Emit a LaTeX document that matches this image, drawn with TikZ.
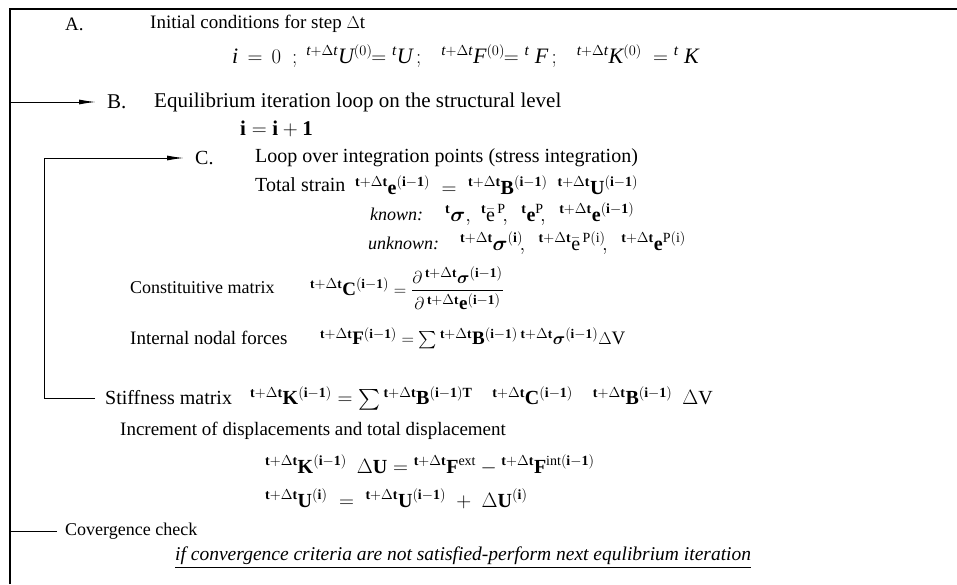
\documentclass[tikz,border=0pt]{standalone}
\usepackage{fontspec}
\setmainfont{Liberation Serif}
\usepackage{amsmath}
\usetikzlibrary{arrows.meta, positioning}

\newcommand{\tdt}{{}^{\mathbf{t+}\Delta\mathbf{t}}}
\newcommand{\pt}{{}^{\mathbf{t}}}
\newcommand{\imo}{(\mathbf{i-1})}
\newcommand{\itdt}{{}^{\mathit{t+}\Delta\mathit{t}}}

\tikzset{
	txt/.style={anchor=west, inner sep=0pt},
	fs/.style={font=\fontsize{#1}{#1}\selectfont},
	loopline/.style={line width=1pt},
	looparrow/.style={loopline, -{Latex[length=17pt,width=5pt]}, shorten >=11pt},
}

\begin{document}
\begin{tikzpicture}[x=1pt,y=-1pt]
	\useasboundingbox (0,0) rectangle (957,584);
	% frame
	\draw[line width=1.4pt] (10,584) -- (10,9) -- (957,9);
	
	% A: initial conditions
	\node[txt, fs=19] (labA) at (65,24) {A.};
	\node[txt, fs=19] (txtA) at (150,24) {Initial conditions for step $\Delta$t};
	\node[txt, fs=22] (init) at (232,56)
	{$\mathit{i}\,=\,0\ \ ;\ \itdt\mathit{U}^{(0)}\!\!={}^{\mathit{t}}\mathit{U}\,;\ \ \ \itdt\mathit{F}^{(0)}\!\!={}^{\mathit{t}}\ \mathit{F}\,;\ \ \ \itdt\mathit{K}^{(0)}\ ={}^{\mathit{t}}\ \mathit{K}$};
	
	% B: equilibrium loop
	\node[txt, fs=21] (labB) at (107,102) {B.};
	\node[txt, fs=21] (txtB) at (154,102) {Equilibrium iteration loop on the structural level};
	\node[txt, fs=21] (incr) at (240,129) {$\mathbf{i=i+1}$};
	
	% C: integration points
	\node[txt, fs=20] (labC) at (195,158) {C.};
	\node[txt, fs=20] (txtC) at (255,158) {Loop over integration points (stress integration)};
	\node[txt, fs=20] (strain) at (255,185) {Total strain};
	\node[txt, fs=20] (strainf) at (355,185)
	{$\tdt\mathbf{e}^{\imo}\;=\;\tdt\mathbf{B}^{\imo}\ \ \tdt\mathbf{U}^{\imo}$};
	\node[txt, fs=18] (known) at (370,214) {\textit{known:}};
	\node[txt, fs=20] (knownf) at (445,214)
	{$\pt\boldsymbol{\sigma}\mathbf{,}\ \ \pt\bar{\mathrm{e}}^{\,\mathrm{P}}\!,\ \ \pt\mathbf{e}^{\mathrm{P}}\!,\ \ \tdt\mathbf{e}^{\imo}$};
	\node[txt, fs=18] (unknown) at (368,243) {\textit{unknown:}};
	\node[txt, fs=20] (unknownf) at (460,243)
	{$\tdt\boldsymbol{\sigma}^{(\mathbf{i})}\!,\ \ \tdt\bar{\mathrm{e}}^{\,\mathrm{P(i)}}\!,\ \ \tdt\mathbf{e}^{\mathrm{P(i)}}$};
	\node[txt, fs=18] (constit) at (130,288) {Constituitive matrix};
	\node[txt, fs=19] (constitf) at (310,288)
	{$\tdt\mathbf{C}^{\imo}=\dfrac{\partial\,\tdt\boldsymbol{\sigma}^{\imo}}{\partial\,\tdt\mathbf{e}^{\imo}}$};
	\node[txt, fs=19] (nodal) at (130,338) {Internal nodal forces};
	\node[txt, fs=19] (nodalf) at (320,338)
	{$\tdt\mathbf{F}^{\imo}=\sum\tdt\mathbf{B}^{\imo}\,\tdt\boldsymbol{\sigma}^{\imo}\Delta\mathrm{V}$};
	\node[txt, fs=20] (stiff) at (105,398) {Stiffness matrix};
	\node[txt, fs=20] (stifff) at (250,398)
	{$\tdt\mathbf{K}^{\imo}=\sum\tdt\mathbf{B}^{\imo\mathbf{T}}\quad\tdt\mathbf{C}^{\imo}\quad\tdt\mathbf{B}^{\imo}\ \ \Delta\mathrm{V}$};
	
	% increments
	\node[txt, fs=19] (disp) at (120,431) {Increment of displacements and total displacement};
	\node[txt, fs=20] (solve) at (265,465)
	{$\tdt\mathbf{K}^{\imo}\ \ \Delta\mathbf{U}=\tdt\mathbf{F}^{\mathrm{ext}}-\tdt\mathbf{F}^{\mathrm{int}\imo}$};
	\node[txt, fs=20] (update) at (265,499)
	{$\tdt\mathbf{U}^{(\mathbf{i})}\;=\;\tdt\mathbf{U}^{\imo}\;+\;\Delta\mathbf{U}^{(\mathbf{i})}$};
	
	% convergence
	\node[txt, fs=18] (conv) at (65,531) {Covergence check};
	\node[txt, fs=19.5] (crit) at (175,558)
	{\underline{\textit{if convergence criteria are not satisfied-perform next equlibrium iteration}}};
	
	% loops
	\coordinate (bx) at (17,0);
	\coordinate (cx) at (54,0);
	\draw[looparrow] ([xshift=-8pt]conv.west) -- ([xshift=-8pt]conv.west -| bx) |- (labB.west);
	\draw[looparrow] ([xshift=-10pt]stiff.west) -- ([xshift=-10pt]stiff.west -| cx) |- (labC.west);
\end{tikzpicture}
\end{document}
